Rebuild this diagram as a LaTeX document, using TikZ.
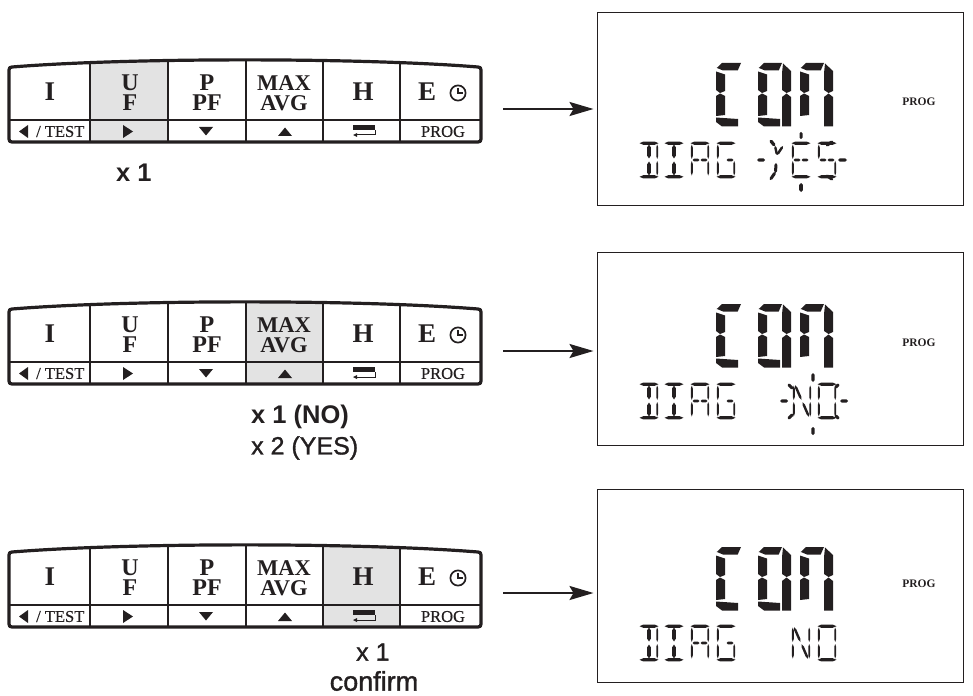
\documentclass[tikz,border=0pt]{standalone}
\usepackage{fontspec}
\setmainfont{Liberation Serif}
\setsansfont{Liberation Sans}
\newfontfamily\capfont[FakeBold=1.2]{Liberation Sans}
\newfontfamily\rowfont[FakeBold=0.6]{Liberation Serif}
\usetikzlibrary{arrows.meta}
\definecolor{ink}{HTML}{231F20}
\definecolor{keygray}{HTML}{E3E3E3}
\tikzset{
  keyline/.style={draw=ink,line width=2.8pt},
  rowline/.style={draw=ink,line width=1.6pt},
  outline/.style={draw=ink,line width=3.2pt,line join=round},
  keylabel/.style={inner sep=0pt,text=ink,font=\bfseries\fontsize{24}{26}\selectfont},
  keywide/.style={inner sep=0pt,text=ink,font=\bfseries\fontsize{22.5}{24}\selectfont},
  keybig/.style={inner sep=0pt,text=ink,font=\bfseries\fontsize{27}{29}\selectfont},
  rowlabel/.style={inner sep=0pt,text=ink,font=\rowfont\fontsize{16.5}{18}\selectfont},
  caption/.style={inner sep=0pt,text=ink,anchor=west,font=\capfont\fontsize{25}{27}\selectfont},
  boldcaption/.style={inner sep=0pt,text=ink,anchor=west,font=\sffamily\bfseries\fontsize{25.5}{27}\selectfont},
  lcdbox/.style={draw=ink,line width=1pt,minimum width=366pt,minimum height=193pt,inner sep=0pt},
  proglabel/.style={inner sep=0pt,text=ink,font=\bfseries\fontsize{11.5}{12}\selectfont},
  flow/.style={draw=ink,line width=2.4pt,-{Stealth[length=24pt,width=14pt,inset=4pt]},shorten >=3pt}
}
% tapered LCD segment
\newcommand{\lseg}[5]{%
  \pgfmathsetmacro\lsdx{#3-#1}\pgfmathsetmacro\lsdy{#4-#2}%
  \pgfmathsetmacro\lsl{max(veclen(\lsdx,\lsdy),0.01)}%
  \pgfmathsetmacro\lsnx{-\lsdy/\lsl*#5/2}\pgfmathsetmacro\lsny{\lsdx/\lsl*#5/2}%
  \fill[ink] (#1,#2)
   -- ({#1+.2*\lsdx+\lsnx},{#2+.2*\lsdy+\lsny}) -- ({#1+.8*\lsdx+\lsnx},{#2+.8*\lsdy+\lsny})
   -- (#3,#4)
   -- ({#1+.8*\lsdx-\lsnx},{#2+.8*\lsdy-\lsny}) -- ({#1+.2*\lsdx-\lsnx},{#2+.2*\lsdy-\lsny}) -- cycle;}
\newcommand{\lcdsT}{\lseg{-0.5}{1.2}{18.5}{1.2}{3.2}}
\newcommand{\lcdsB}{\lseg{-0.5}{34.8}{18.5}{34.8}{3.2}}
\newcommand{\lcdsUL}{\lseg{0.8}{2.5}{0.8}{17}{1.9}}
\newcommand{\lcdsLL}{\lseg{0.8}{19}{0.8}{33.5}{1.9}}
\newcommand{\lcdsUR}{\lseg{17.2}{2.5}{17.2}{17}{1.9}}
\newcommand{\lcdsLR}{\lseg{17.2}{19}{17.2}{33.5}{1.9}}
\newcommand{\lcdsML}{\lseg{1.5}{18}{8.5}{18}{2.6}}
\newcommand{\lcdsMR}{\lseg{9.5}{18}{16.5}{18}{2.6}}
\newcommand{\lcdsCU}{\lseg{9}{2.5}{9}{16.5}{3.6}}
\newcommand{\lcdsCL}{\lseg{9}{19.5}{9}{33.5}{3.6}}
\newcommand{\lcdsDa}{\lseg{2}{2}{8.5}{17}{2.4}}
\newcommand{\lcdsDd}{\lseg{9.5}{19}{16}{34}{2.4}}
\newcommand{\lcdch}[3]{\begin{scope}[shift={(#1,#2)}]\foreach \sname in {#3}{\csname lcds\sname\endcsname}\end{scope}}
\newcommand{\diag}[1]{%
  \lcdch{640}{#1}{T,B,CU,CL,UR,LR}
  \lcdch{665}{#1}{T,B,CU,CL}
  \lcdch{691}{#1}{T,UL,LL,UR,LR,ML,MR}
  \lcdch{717}{#1}{T,B,UL,LL,LR,MR}}
% big seven-segment digits
\newcommand{\bigT}[1]{\fill[ink] (.7,5) -- (6,0) -- (#1,0) -- ({#1-3.3},7.5) -- (7,7.5) -- (1,5) -- cycle;}
\newcommand{\bigUL}{\fill[ink] (0,8.5) -- (9,11.5) -- (9,28) -- (4,30) -- (0,27) -- cycle;}
\newcommand{\bigLL}{\fill[ink] (0,33) -- (4,30.5) -- (9,33) -- (9,52) -- (0,53) -- cycle;}
\newcommand{\bigB}{\fill[ink] (0,54.5) -- (22,56) -- (22,63.5) -- (6,63.5) -- (0,59) -- cycle;}
\newcommand{\bigUR}{\fill[ink] (25,0.5) -- (33,8) -- (33,28) -- (28.5,30) -- (24,27) -- (24,10) -- cycle;}
\newcommand{\bigLR}{\fill[ink] (24,34) -- (28.5,30.5) -- (33,34) -- (33,63.5) -- (24,63.5) -- cycle;}
\newcommand{\bigcom}[1]{%
  \begin{scope}[shift={(716,#1)}]\bigT{25}\bigUL\bigLL\bigB\end{scope}
  \begin{scope}[shift={(758,#1)}]\bigT{24}\bigUL\bigLL\bigB\bigUR\bigLR\end{scope}
  \begin{scope}[shift={(800,#1)}]\bigT{24}\bigUL\bigLL\bigUR\bigLR\end{scope}}
% keypad panel: #1 name, #2 y shift, #3 left of shaded key, #4 right of shaded key
\newcommand{\keypanel}[4]{%
\begin{scope}[yshift=-#2pt]
  \begin{scope}
    \clip (9,142) -- (9,70) .. controls (9,68) and (10,67) .. (12,67)
      .. controls (130,57.5) and (360,57.5) .. (478,67) .. controls (480,67) and (481,68) .. (481,70) -- (481,142) -- cycle;
    \fill[keygray] (#3,50) rectangle (#4,142);
  \end{scope}
  \draw[rowline] (9,120) -- (481,120);
  \foreach \sx/\sy in {90/62.5,168/60.5,246/60,323/60.5,400/62.5}{\draw[keyline] (\sx,\sy) -- (\sx,142);}
  \draw[outline] (12,67) .. controls (130,57.5) and (360,57.5) .. (478,67)
    .. controls (480,67) and (481,68) .. (481,70) -- (481,139)
    .. controls (481,141) and (480,142) .. (478,142) -- (12,142)
    .. controls (10,142) and (9,141) .. (9,139) -- (9,70)
    .. controls (9,68) and (10,67) .. (12,67) -- cycle;
  \node[keybig] (#1I) at (50,92) {I};
  \node[keylabel] (#1U) at (130,83) {U};
  \node[keylabel] (#1F) at (130,103) {F};
  \node[keylabel] (#1P) at (207,83) {P};
  \node[keylabel] (#1PF) at (207,103) {PF};
  \node[keywide] (#1MAX) at (284,83) {MAX};
  \node[keywide] (#1AVG) at (284,103) {AVG};
  \node[keybig] (#1H) at (363,92) {H};
  \node[keybig] (#1E) at (427,92) {E};
  \draw[ink,line width=1.7pt] (458,93) circle (7.6pt);
  \draw[ink,line width=1.2pt] (458,88) -- (458,93) -- (463,93);
  \fill[ink] (19,131.5) -- (28,125) -- (28,138) -- cycle;
  \node[rowlabel,anchor=west] (#1TEST) at (36,131.5) {/ TEST};
  \fill[ink] (133,131.5) -- (123,125) -- (123,138) -- cycle;
  \fill[ink] (199,127) -- (213,127) -- (206,135.5) -- cycle;
  \fill[ink] (278,136) -- (292,136) -- (285,127.5) -- cycle;
  \fill[ink] (353,125) rectangle (375,130);
  \draw[ink,line width=1pt] (375,130) -- (375,135) -- (356,135);
  \fill[ink] (353,135) -- (357,133) -- (357,137) -- cycle;
  \node[rowlabel] (#1PROG) at (443,131.5) {PROG};
\end{scope}}
\begin{document}
\begin{tikzpicture}[x=1pt,y=-1pt]
\useasboundingbox (0,0) rectangle (973,695);
\keypanel{ka}{0}{90}{168}
\keypanel{kb}{242}{246}{323}
\keypanel{kc}{485}{323}{400}
% captions
\node[boldcaption] (capa) at (116,173) {x 1};
\node[boldcaption] (capb) at (251,417) {x 1 (NO)};
\node[caption] (capc) at (251,448) {x 2 (YES)};
\node[caption] (capd) at (356,652) {x 1};
\node[caption,anchor=center,font=\capfont\fontsize{27}{28}\selectfont] (cape) at (374,681) {confirm};
% LCD boxes
\node[lcdbox] (lcda) at (780,109) {};
\node[lcdbox] (lcdb) at (780,348.5) {};
\node[lcdbox] (lcdc) at (780,585.5) {};
\node[proglabel] (proga) at (919,102) {PROG};
\node[proglabel] (progb) at (919,343) {PROG};
\node[proglabel] (progc) at (919,584) {PROG};
% arrows
\coordinate (sa) at (503,109);
\coordinate (sb) at (503,351);
\coordinate (sc) at (503,593);
\draw[flow] (sa) -- (sa -| lcda.west);
\draw[flow] (sb) -- (sb -| lcdb.west);
\draw[flow] (sc) -- (sc -| lcdc.west);
% big digits
\bigcom{63}
\bigcom{304}
\bigcom{547}
% line one: DIAG -YES-
\diag{142}
\lseg{757}{160}{765}{160}{3.2}
\lseg{770}{140}{775}{146}{3.2}
\lseg{775}{146}{777}{155}{2.4}
\lseg{783}{146}{777}{155}{2.4}
\lseg{776}{163}{775.5}{173}{3}
\lseg{775.5}{172}{770}{180}{3}
\lcdch{792}{142}{T,B,UL,LL,ML,MR}
\lseg{801}{132}{801}{139}{3}
\lseg{801}{183}{801}{192}{3.6}
\lcdch{818}{142}{T,B,UL,LR,ML,MR}
\lseg{826}{146}{833}{141}{3}
\lseg{826}{175}{833}{180}{3}
\lseg{838}{160}{847}{160}{3.2}
% line two: DIAG -NO-
\diag{383}
\lcdch{793}{383}{UL,LL,UR,LR,Da,Dd}
\lcdch{818}{383}{T,B,UL,LL,UR,LR}
\lseg{780}{401}{788}{401}{3.2}
\lseg{840}{401}{848}{401}{3.2}
\lseg{813}{373}{813}{382}{3.4}
\lseg{813}{427}{813}{435}{3.4}
\lseg{788}{384}{793}{389}{3}
\lseg{788}{419}{793}{414}{3}
\lseg{839}{384}{835}{388}{3}
\lseg{839}{419}{835}{415}{3}
% line three: DIAG NO
\diag{625}
\lcdch{792}{625}{UL,LL,UR,LR,Da,Dd}
\lcdch{818}{625}{T,B,UL,LL,UR,LR}
\end{tikzpicture}
\end{document}
